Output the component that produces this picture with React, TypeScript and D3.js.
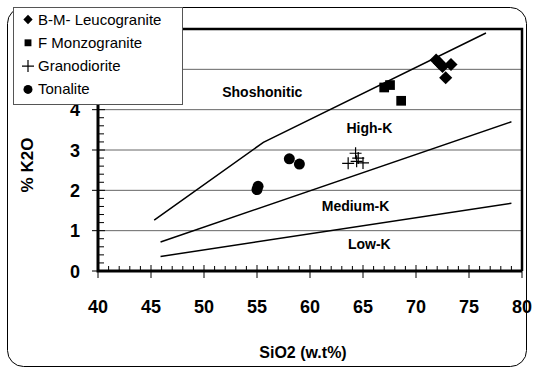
import React, { useEffect, useRef } from 'react';
import * as d3 from 'd3';

// boundary lines (SiO2, K2O)
const shoshoniticLine: [number, number][] = [[45.3, 1.26], [55.6, 3.19], [76.6, 5.9]];
const highKLine: [number, number][] = [[45.9, 0.72], [79.0, 3.70]];
const mediumKLine: [number, number][] = [[45.9, 0.36], [79.0, 1.68]];

// samples
const leucogranite: [number, number][] = [[71.9, 5.23], [72.2, 5.16], [72.5, 5.07], [73.3, 5.12], [72.8, 4.79]];
const monzogranite: [number, number][] = [[67.0, 4.55], [67.55, 4.61], [68.6, 4.22]];
const granodiorite: [number, number][] = [[63.6, 2.67], [64.3, 2.92], [64.55, 2.8], [65.0, 2.68], [64.4, 2.72]];
const tonalite: [number, number][] = [[55.0, 2.02], [55.1, 2.1], [58.05, 2.78], [59.0, 2.65]];

const xTicks = [40, 45, 50, 55, 60, 65, 70, 75, 80];
const yTicks = [0, 1, 2, 3, 4, 5, 6];
const yLabels = [0, 1, 2, 3, 4]; // 5 and 6 sit under the legend

const fieldLabels: { text: string, x: number, y: number }[] = [
    { text: 'Shoshonitic', x: 55.5, y: 4.45 },
    { text: 'High-K', x: 65.6, y: 3.55 },
    { text: 'Medium-K', x: 64.3, y: 1.6 },
    { text: 'Low-K', x: 65.6, y: 0.68 },
];

const legendItems = ['B-M- Leucogranite', 'F Monzogranite', 'Granodiorite', 'Tonalite'];

const FONT = "'Liberation Sans', Arial, sans-serif";

export default function App() {
    const ref = useRef<SVGSVGElement>(null);

    useEffect(() => {
        const svg = d3.select(ref.current);
        svg.selectAll('*').remove();

        const x = d3.scaleLinear().domain([40, 80]).range([98, 522]);
        const y = d3.scaleLinear().domain([0, 6]).range([271, 29]);

        // outer frame
        svg.append('rect')
            .attr('x', 7.5).attr('y', 7.5)
            .attr('width', 519).attr('height', 359)
            .attr('rx', 16).attr('ry', 16)
            .attr('fill', 'white')
            .attr('stroke', 'black').attr('stroke-width', 1);

        // gridlines
        svg.append('g').selectAll('line')
            .data(yTicks.slice(1, -1))
            .join('line')
            .attr('x1', x(40)).attr('x2', x(80))
            .attr('y1', d => y(d)).attr('y2', d => y(d))
            .attr('stroke', '#666').attr('stroke-width', 1);

        // plot border top/right
        svg.append('path')
            .attr('d', `M${x(40)},${y(6)}H${x(80)}V${y(0)}`)
            .attr('fill', 'none').attr('stroke', 'black').attr('stroke-width', 2.5);

        // boundary lines
        const line = d3.line<[number, number]>().x(d => x(d[0])).y(d => y(d[1]));
        [shoshoniticLine, highKLine, mediumKLine].forEach(l => {
            svg.append('path')
                .attr('d', line(l))
                .attr('fill', 'none').attr('stroke', 'black').attr('stroke-width', 1.5);
        });

        // field labels
        svg.append('g').selectAll('text')
            .data(fieldLabels)
            .join('text')
            .attr('x', d => x(d.x)).attr('y', d => y(d.y))
            .attr('text-anchor', 'middle')
            .attr('dominant-baseline', 'central')
            .attr('font-family', FONT).attr('font-weight', 'bold').attr('font-size', 14)
            .text(d => d.text);

        // axes
        const minorX = d3.range(40, 81, 1).filter(v => v % 5 !== 0);
        const minorY = d3.range(0, 30, 1).map(v => v / 5).filter(v => v % 1 !== 0);
        const ax = svg.append('g').attr('stroke', 'black').attr('stroke-width', 1);
        ax.selectAll('.mx').data(minorX).join('line').attr('class', 'mx')
            .attr('x1', d => x(d)).attr('x2', d => x(d))
            .attr('y1', y(0) - 5).attr('y2', y(0));
        ax.selectAll('.Mx').data(xTicks).join('line').attr('class', 'Mx')
            .attr('x1', d => x(d)).attr('x2', d => x(d))
            .attr('y1', y(0) - 6).attr('y2', y(0) + 7);
        ax.selectAll('.my').data(minorY).join('line').attr('class', 'my')
            .attr('x1', x(40)).attr('x2', x(40) + 6)
            .attr('y1', d => y(d)).attr('y2', d => y(d));
        ax.selectAll('.My').data(yTicks).join('line').attr('class', 'My')
            .attr('x1', x(40) - 6).attr('x2', x(40) + 7)
            .attr('y1', d => y(d)).attr('y2', d => y(d));
        svg.append('path')
            .attr('d', `M${x(40)},${y(6)}V${y(0)}H${x(80)}`)
            .attr('fill', 'none').attr('stroke', 'black').attr('stroke-width', 3);

        svg.append('g').selectAll('text')
            .data(xTicks)
            .join('text')
            .attr('x', d => x(d)).attr('y', 313)
            .attr('text-anchor', 'middle')
            .attr('font-family', FONT).attr('font-weight', 'bold').attr('font-size', 18)
            .text(d => d);
        svg.append('g').selectAll('text')
            .data(yLabels)
            .join('text')
            .attr('x', 80).attr('y', d => y(d) + 6.5)
            .attr('text-anchor', 'end')
            .attr('font-family', FONT).attr('font-weight', 'bold').attr('font-size', 18)
            .text(d => d);

        svg.append('text')
            .attr('x', 303).attr('y', 358)
            .attr('text-anchor', 'middle')
            .attr('font-family', FONT).attr('font-weight', 'bold').attr('font-size', 16)
            .text('SiO2 (w.t%)');
        svg.append('text')
            .attr('transform', 'translate(33,165) rotate(-90)')
            .attr('text-anchor', 'middle')
            .attr('font-family', FONT).attr('font-weight', 'bold').attr('font-size', 17)
            .text('% K2O');

        // markers
        const diamond = d3.symbol().type(d3.symbolDiamond2);
        const square = d3.symbol().type(d3.symbolSquare2);
        const drawMarker = (g: any, kind: number, cx: number, cy: number, big: boolean) => {
            if (kind === 0) {
                g.append('path').attr('d', diamond.size(big ? 110 : 55)())
                    .attr('transform', `translate(${cx},${cy})`).attr('fill', 'black');
            } else if (kind === 1) {
                g.append('path').attr('d', square.size(big ? 120 : 60)())
                    .attr('transform', `translate(${cx},${cy})`).attr('fill', 'black');
            } else if (kind === 2) {
                const s = 6;
                g.append('path').attr('d', `M${cx - s},${cy}H${cx + s}M${cx},${cy - s}V${cy + s}`)
                    .attr('stroke', 'black').attr('stroke-width', 1.2).attr('fill', 'none');
            } else {
                g.append('circle').attr('cx', cx).attr('cy', cy).attr('r', big ? 5.5 : 4.5).attr('fill', 'black');
            }
        };
        const pts = svg.append('g');
        [leucogranite, monzogranite, granodiorite, tonalite].forEach((series, k) => {
            series.forEach(p => drawMarker(pts, k, x(p[0]), y(p[1]), true));
        });

        // legend
        const lg = svg.append('g');
        lg.append('rect')
            .attr('x', 13.5).attr('y', 7.5).attr('width', 169).attr('height', 97)
            .attr('fill', 'white').attr('stroke', '#555').attr('stroke-width', 1);
        legendItems.forEach((name, i) => {
            const cy = 19.5 + i * 23.3;
            drawMarker(lg, i, 28, cy, false);
            lg.append('text')
                .attr('x', 38).attr('y', cy + 5)
                .attr('font-family', FONT).attr('font-size', 15)
                .text(name);
        });
    }, []);

    return (
        <svg ref={ref} width={533} height={370}
            style={{ position: 'absolute', left: 0, top: 0, background: 'white' }} />
    );
}
